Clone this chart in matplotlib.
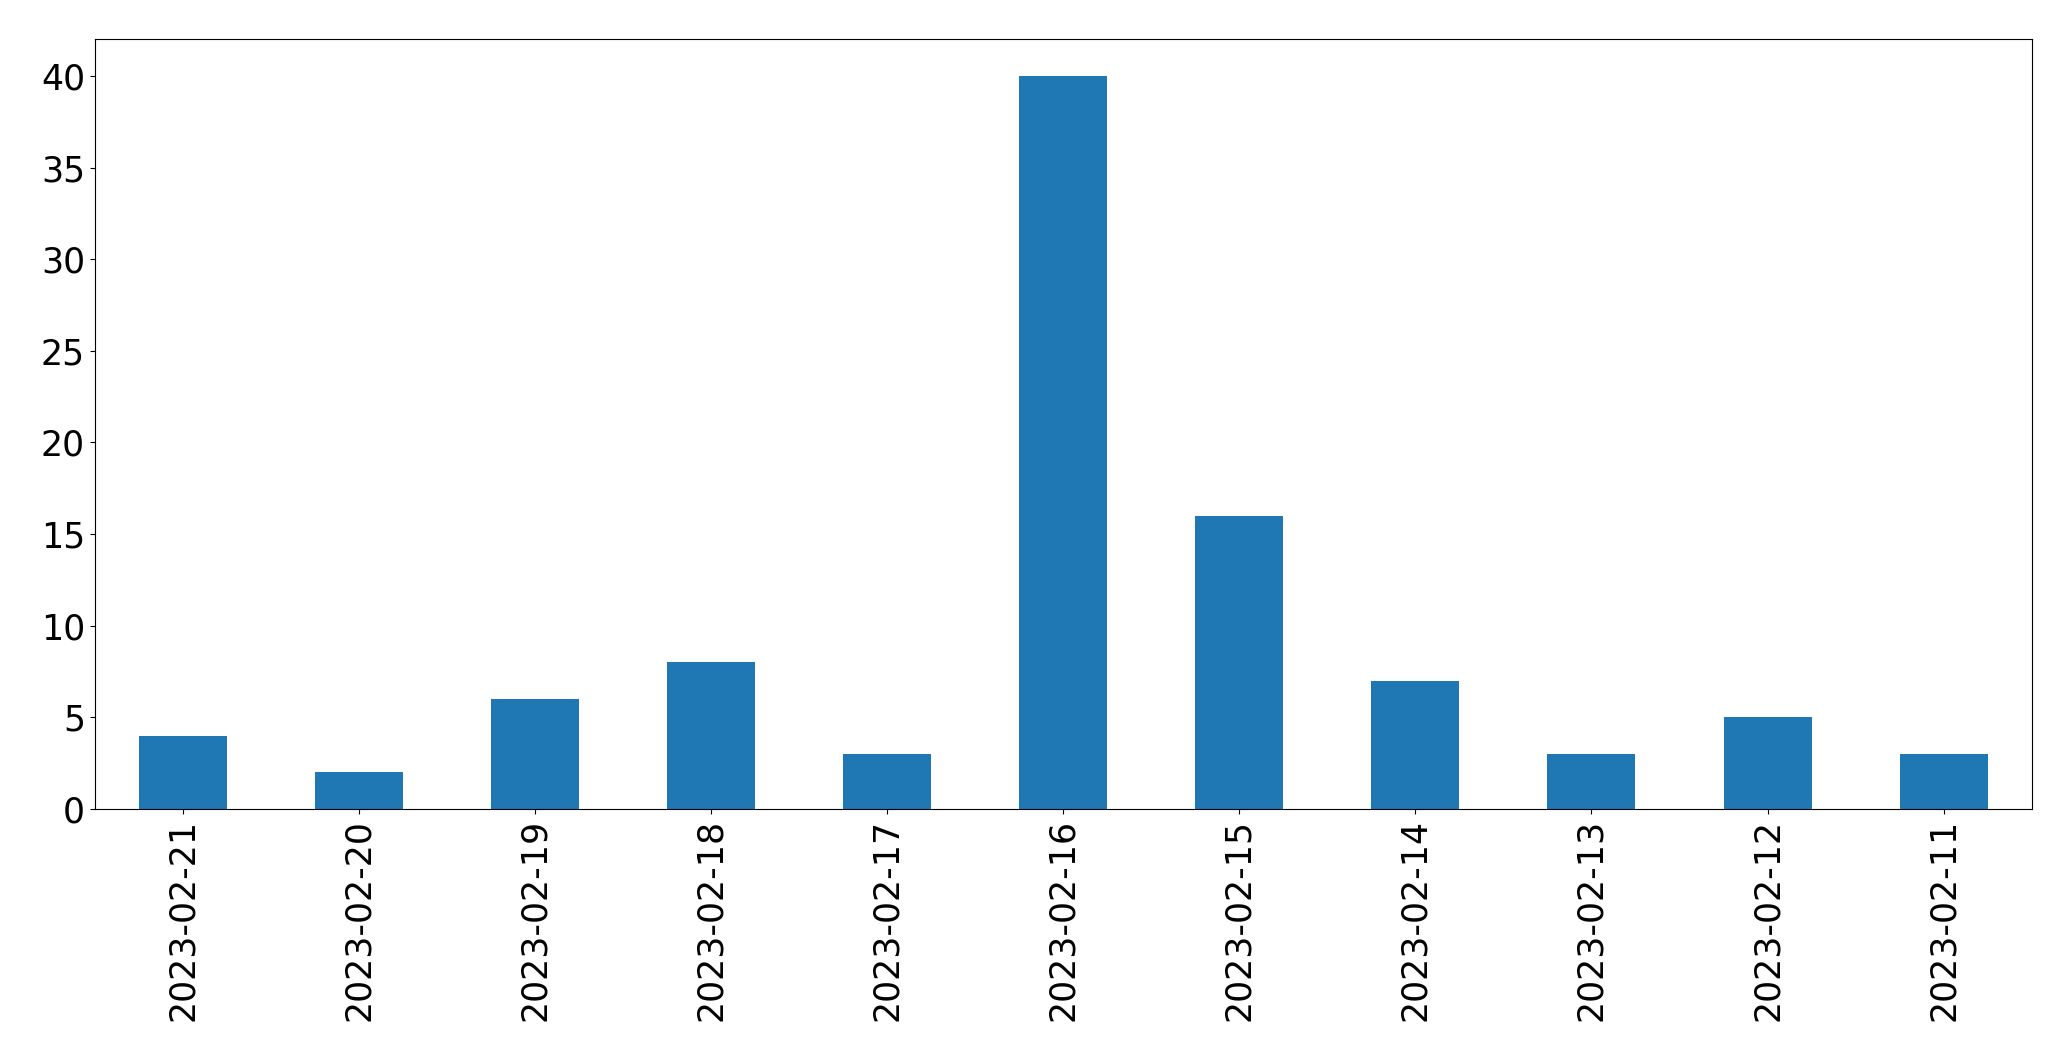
import matplotlib
matplotlib.use("Agg")
import matplotlib.pyplot as plt

dates = ["2023-02-21", "2023-02-20", "2023-02-19", "2023-02-18", "2023-02-17",
         "2023-02-16", "2023-02-15", "2023-02-14", "2023-02-13", "2023-02-12",
         "2023-02-11"]
counts = [4, 2, 6, 8, 3, 40, 16, 7, 3, 5, 3]

fig = plt.figure(figsize=(20.71, 10.61), dpi=100)
ax = fig.add_axes([94.7 / 2071, 1 - 809 / 1061, (2031.7 - 94.7) / 2071, (809 - 39.3) / 1061])
x = list(range(len(dates)))
ax.bar(x, counts, width=0.5, color="#1f77b4")
ax.set_xlim(-0.5, len(dates) - 0.5)
ax.set_ylim(0, max(counts) * 1.05)
ax.set_xticks(x)
ax.set_xticklabels(dates, rotation=90)
ax.tick_params(axis="both", labelsize=25)
fig.savefig("out.png", dpi=100)
